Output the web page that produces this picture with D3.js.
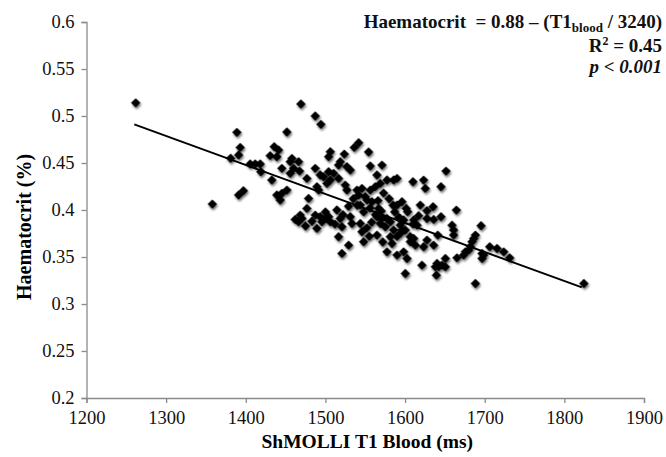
<!DOCTYPE html>
<meta charset="utf-8">
<html>
<head>
<script type="text/javascript" src="https://d3js.org/d3.v7.js"></script>
</head>
<body style="margin:0;background:#fff">
<div id="plotArea"></div>
<script>
  // values
  const t1Blood = [
    1261.8, 1388.8, 1393, 1391, 1381, 1397, 1391, 1358,
    1469.2, 1487.2, 1494.3, 1451.6, 1541.7, 1536.2, 1435.7, 1441.1, 1430.6, 1439.0,
    1506.1, 1504.0, 1523.7, 1554.2, 1405.5, 1411.8, 1418.1, 1457.9, 1455.8, 1466.3,
    1445.3, 1460.0, 1518.6, 1516.5, 1527.0, 1531.2, 1556.3, 1571.0, 1487.2, 1493.5,
    1497.7, 1504.0, 1510.3, 1516.5, 1506.1, 1418.9, 1432.7, 1455.8, 1467.5, 1476.7,
    1564.7, 1577.3, 1585.7, 1589.9, 1568.9, 1562.6, 1556.3, 1451.6, 1439.0, 1443.2,
    1445.3, 1489.3, 1491.4, 1501.9, 1524.9, 1527.0, 1539.6, 1545.9, 1541.7, 1550.1,
    1552.2, 1558.4, 1543.8, 1478.8, 1476.7, 1468.4, 1470.4, 1466.3, 1487.2, 1493.5,
    1499.8, 1504.0, 1495.6, 1506.1, 1489.3, 1514.4, 1518.6, 1520.7, 1531.2, 1533.3,
    1543.8, 1545.9, 1548.0, 1529.1, 1566.8, 1564.7, 1571.0, 1577.3, 1581.5, 1568.9,
    1575.2, 1564.7, 1581.5, 1583.6, 1585.7, 1589.9, 1577.3, 1589.9, 1516.5, 1520.7,
    1651.4, 1609.9, 1623.3, 1625.4, 1645.1, 1596.1, 1601.5, 1603.2, 1619.1, 1627.5,
    1635.1, 1627.5, 1635.9, 1645.1, 1664.4, 1594, 1598.2, 1610.8, 1615, 1594,
    1596.1, 1594, 1600.3, 1606.6, 1610.8, 1606.6, 1612.9, 1623.3, 1627.5, 1635.9,
    1659, 1661, 1661, 1641, 1695.4, 1688.3, 1686.2, 1684.1, 1682, 1679.9,
    1675.7, 1673.6, 1706.3, 1715.5, 1723.9, 1731.4, 1696.7, 1696.7, 1698.8, 1598.2,
    1602.4, 1650.6, 1665.2, 1640.1, 1646.4, 1642.2, 1638, 1650.6, 1621.2, 1600.3,
    1639.3, 1688.3, 1824.5,
    1540, 1548, 1556, 1563, 1570, 1558, 1552, 1587, 1592, 1585,
    1580, 1573, 1566, 1535, 1529, 1522, 1512, 1500, 1483, 1475,
    1462, 1555, 1572, 1590, 1610, 1617
  ];
  const haematocrit = [
    0.514, 0.4826, 0.4666, 0.4585, 0.455, 0.4205, 0.416, 0.4063,
    0.5128, 0.5000, 0.4911, 0.4830, 0.4716, 0.4666, 0.4674, 0.4638, 0.4578, 0.4567,
    0.4620, 0.4567, 0.4595, 0.4617, 0.4489, 0.4489, 0.4489, 0.4549, 0.4514, 0.4514,
    0.4443, 0.4443, 0.4514, 0.4478, 0.4461, 0.4425, 0.4468, 0.4478, 0.4443, 0.4372,
    0.4354, 0.4407, 0.4390, 0.4336, 0.4319, 0.4407, 0.4319, 0.4390, 0.4414, 0.4336,
    0.4372, 0.4319, 0.4319, 0.4336, 0.4283, 0.4248, 0.4212, 0.4212, 0.4159, 0.4106,
    0.4177, 0.4248, 0.4212, 0.4283, 0.4265, 0.4212, 0.4212, 0.4230, 0.4159, 0.4141,
    0.4106, 0.4088, 0.4052, 0.4123, 0.4017, 0.3946, 0.3910, 0.3875, 0.3946, 0.3928,
    0.3910, 0.3928, 0.3875, 0.3875, 0.3804, 0.4000, 0.3910, 0.3822, 0.3928, 0.3857,
    0.3857, 0.3768, 0.3662, 0.3626, 0.4017, 0.3928, 0.3910, 0.3910, 0.3875, 0.3857,
    0.3822, 0.3733, 0.3715, 0.3644, 0.3786, 0.4052, 0.3555, 0.3520, 0.3715, 0.3538,
    0.4414, 0.4301, 0.4318, 0.4230, 0.4247, 0.4088, 0.4017, 0.3981, 0.4052, 0.3992,
    0.4035, 0.3910, 0.3900, 0.3928, 0.3999, 0.3910, 0.3893, 0.3893, 0.3839, 0.3839,
    0.3786, 0.3751, 0.3786, 0.3715, 0.3697, 0.3662, 0.3626, 0.3609, 0.3680, 0.3626,
    0.3839, 0.3786, 0.3733, 0.3733, 0.3832, 0.3733, 0.3697, 0.3662, 0.3609, 0.3573,
    0.3555, 0.3520, 0.3609, 0.3591, 0.3555, 0.3491, 0.3538, 0.3484, 0.3520, 0.3555,
    0.3484, 0.3484, 0.3491, 0.3431, 0.3413, 0.3395, 0.3395, 0.3395, 0.3413, 0.3325,
    0.3307, 0.3218, 0.3218,
    0.405, 0.398, 0.402, 0.395, 0.399, 0.387, 0.381, 0.398, 0.392, 0.405,
    0.412, 0.418, 0.410, 0.412, 0.404, 0.395, 0.385, 0.398, 0.388, 0.383,
    0.390, 0.372, 0.366, 0.372, 0.385, 0.394
  ];
  const xTicks = [1200, 1300, 1400, 1500, 1600, 1700, 1800, 1900];
  const yTicks = [0.2, 0.25, 0.3, 0.35, 0.4, 0.45, 0.5, 0.55, 0.6];
  // fit line: Haematocrit = 0.88 - T1/3240
  const fitIntercept = 0.88, fitDivisor = 3240;
  const fitRange = [1260, 1822];

  const margin = {top: 22, right: 22, bottom: 59, left: 86.5},
        width = 666 - margin.left - margin.right,
        height = 457 - margin.top - margin.bottom;

  const svgRoot = d3.select("#plotArea").append("svg")
      .attr("width", 666).attr("height", 457)
      .style("display", "block");

  // soft edge + shadow for the markers
  const defs = svgRoot.append("defs");
  const f = defs.append("filter").attr("id", "shadow")
      .attr("x", "-60%").attr("y", "-60%").attr("width", "220%").attr("height", "220%");
  f.append("feGaussianBlur").attr("in", "SourceAlpha").attr("stdDeviation", 1.3).attr("result", "b");
  f.append("feOffset").attr("in", "b").attr("dx", 1).attr("dy", 1.5).attr("result", "o");
  f.append("feComponentTransfer").attr("in", "o").attr("result", "s")
    .append("feFuncA").attr("type", "linear").attr("slope", 0.55);
  f.append("feGaussianBlur").attr("in", "SourceGraphic").attr("stdDeviation", 0.6).attr("result", "g");
  const m = f.append("feMerge");
  m.append("feMergeNode").attr("in", "s");
  m.append("feMergeNode").attr("in", "g");

  const svg = svgRoot.append("g")
      .attr("transform", `translate(${margin.left}, ${margin.top})`);

  const xScale = d3.scaleLinear().domain([1200, 1900]).range([0, width]);
  const yScale = d3.scaleLinear().domain([0.2, 0.6]).range([height, 0]);

  const xAxis = svg.append("g").attr("transform", "translate(0," + height + ")")
      .call(d3.axisBottom(xScale).tickValues(xTicks).tickSize(5).tickPadding(8).tickFormat(d3.format("d")));
  const yAxis = svg.append("g")
      .call(d3.axisLeft(yScale).tickValues(yTicks).tickSize(5).tickPadding(7).tickFormat(d => String(+d.toFixed(2))));

  [xAxis, yAxis].forEach(function(a) {
    a.select(".domain").attr("stroke", "#8a8a8a").attr("stroke-width", 1.3);
    a.selectAll(".tick line").attr("stroke", "#8a8a8a").attr("stroke-width", 1.3);
    a.selectAll("text").attr("fill", "#111")
      .style("font-family", "'Liberation Serif', 'Times New Roman', serif")
      .style("font-size", "18.5px");
  });

  // axis titles
  svg.append("text")
    .attr("x", width / 2 + 2).attr("y", height + 50)
    .style("text-anchor", "middle")
    .style("font-family", "'Liberation Serif', 'Times New Roman', serif")
    .style("font-weight", "bold").style("font-size", "19.5px")
    .text("ShMOLLI T1 Blood (ms)");
  svg.append("text")
    .attr("transform", "rotate(-90)")
    .attr("x", -(yScale(0.382))).attr("y", -56)
    .style("text-anchor", "middle")
    .style("font-family", "'Liberation Serif', 'Times New Roman', serif")
    .style("font-weight", "bold").style("font-size", "20px")
    .text("Haematocrit (%)");

  // regression line
  const line = d3.line().x(d => xScale(d)).y(d => yScale(fitIntercept - d / fitDivisor));
  svg.append("path").datum(fitRange)
    .attr("d", line).attr("fill", "none")
    .attr("stroke", "#000").attr("stroke-width", 2);

  // points
  const data = d3.zip(t1Blood, haematocrit);
  svg.append("g").attr("filter", "url(#shadow)")
    .selectAll("path").data(data).enter().append("path")
    .attr("transform", d => `translate(${xScale(d[0])},${yScale(d[1])})`)
    .attr("d", d3.symbol().type(d3.symbolDiamond2).size(56))
    .attr("fill", "#000");

  // equation annotation
  const ann = svgRoot.append("text")
    .attr("text-anchor", "end")
    .style("white-space", "pre")
    .style("font-family", "'Liberation Serif', 'Times New Roman', serif")
    .style("font-weight", "bold").style("font-size", "19px").attr("fill", "#111");
  const l1 = ann.append("tspan").attr("x", 662).attr("y", 28);
  l1.append("tspan").text("Haematocrit  = 0.88 \u2013 (T1");
  l1.append("tspan").attr("dy", 4).style("font-size", "13px").text("blood");
  l1.append("tspan").attr("dy", -4).text(" / 3240)");
  const l2 = ann.append("tspan").attr("x", 662).attr("y", 52);
  l2.append("tspan").text("R");
  l2.append("tspan").attr("dy", -7).style("font-size", "12px").text("2");
  l2.append("tspan").attr("dy", 7).text(" = 0.45");
  ann.append("tspan").attr("x", 662).attr("y", 73)
    .style("font-style", "italic").text("p < 0.001");
</script>
</body>
</html>
